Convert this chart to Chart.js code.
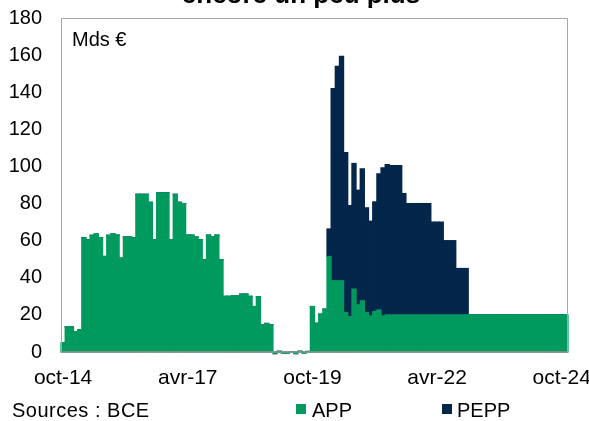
<!DOCTYPE html>
<html>
<head>
<meta charset="utf-8">
<script src="https://cdn.jsdelivr.net/npm/chart.js@4.4.1/dist/chart.umd.min.js"></script>
<style>
    body { margin: 0; background: #fff; }
    #wrap { position: relative; width: 589px; height: 421px; overflow: hidden; font-family: "Liberation Sans", Arial, sans-serif; color: #000; }
    #chart { position: absolute; left: 0; top: 0; }
    .title { position: absolute; left: 0; width: 602px; top: -19px; text-align: center; font-weight: bold; font-size: 26px; line-height: 26px; }
    .unit { position: absolute; left: 72px; top: 29px; font-size: 20px; line-height: 20px; }
    .foot { position: absolute; top: 400px; font-size: 20px; line-height: 20px; white-space: nowrap; }
    .sq { position: absolute; top: 404px; width: 10px; height: 10px; }
</style>
</head>
<body>
<div id="wrap">
    <canvas id="chart" width="589" height="421"></canvas>
    <div class="title">encore un peu plus</div>
    <div class="unit">Mds €</div>
    <div class="foot" style="left:12px;letter-spacing:0.5px">Sources : BCE</div>
    <div class="sq" style="left:296px;background:#009a5e"></div>
    <div class="foot" style="left:312px">APP</div>
    <div class="sq" style="left:442px;background:#03264a"></div>
    <div class="foot" style="left:457px">PEPP</div>
</div>
<script>
// achats nets mensuels, oct-14 -> nov-24
const monthNames = ['janv', 'févr', 'mars', 'avr', 'mai', 'juin', 'juil', 'août', 'sept', 'oct', 'nov', 'déc'];
const tickLabels = ['oct-14', 'avr-17', 'oct-19', 'avr-22', 'oct-24'];
const yTicks = [0, 20, 40, 60, 80, 100, 120, 140, 160, 180];

const appValues = [
    5, 13.5, 13.5, 11, 12, 61.6, 60.5, 62.9, 63.6, 61.6,
    51.5, 62.9, 63.6, 63, 50.6, 62, 62, 61.6, 85, 85,
    85, 80.7, 60.5, 85.8, 85.8, 85.8, 60.5, 85, 80.7, 80,
    63, 63, 62, 60.5, 49.7, 63, 62, 63, 49.7, 30,
    30, 30.2, 30.2, 31.2, 31.2, 30, 24.5, 29.8, 14.6, 15.4,
    14.6, -1, 0.4, -0.7, -0.7, 0, -1, 0.4, -0.7, 0.3,
    24.5, 15.5, 20.4, 23.1, 51.5, 38.4, 38.4, 38.4, 21.3, 19.1,
    33.9, 25.4, 27.6, 21.3, 19.5, 21.8, 22.7, 19.5, 20, 20,
    20, 20, 20, 20, 20, 20, 20, 20, 20, 20,
    20, 20, 20, 20, 20, 20, 20, 20, 20, 20,
    20, 20, 20, 20, 20, 20, 20, 20, 20, 20,
    20, 20, 20, 20, 20, 20, 20, 20, 20, 20,
    20, 20
];

const peppValues = [
    0, 0, 0, 0, 0, 0, 0, 0, 0, 0,
    0, 0, 0, 0, 0, 0, 0, 0, 0, 0,
    0, 0, 0, 0, 0, 0, 0, 0, 0, 0,
    0, 0, 0, 0, 0, 0, 0, 0, 0, 0,
    0, 0, 0, 0, 0, 0, 0, 0, 0, 0,
    0, 0, 0, 0, 0, 0, 0, 0, 0, 0,
    0, 0, 0, 0, 14.8, 103.5, 115.6, 120.9, 86.1, 59.8,
    67.7, 61.8, 71.1, 56.4, 51, 59.1, 73.3, 79.8, 81, 80.5,
    80.5, 80.5, 65.4, 60, 60, 60, 60, 60, 60, 50,
    50, 50, 40, 40, 40, 25, 25, 25, 0, 0,
    0, 0, 0, 0, 0, 0, 0, 0, 0, 0,
    0, 0, 0, 0, 0, 0, 0, 0, 0, 0,
    0, 0
];

const labels = [];
for (let i = 0; i < appValues.length; i++) {
    const m = (9 + i) % 12;
    const y = 14 + Math.floor((9 + i) / 12);
    labels.push(monthNames[m] + '-' + y);
}

const frame = {
    id: 'frame',
    afterDatasetsDraw(chart) {
        const {ctx, chartArea: a} = chart;
        ctx.save();
        ctx.strokeStyle = '#a6a6a6';
        ctx.lineWidth = 1;
        ctx.beginPath();
        ctx.moveTo(a.left + 0.5, a.bottom);
        ctx.lineTo(a.left + 0.5, a.top + 0.5);
        ctx.lineTo(a.right - 0.5, a.top + 0.5);
        ctx.lineTo(a.right - 0.5, a.bottom);
        ctx.stroke();
        ctx.strokeStyle = '#909090';
        ctx.lineWidth = 1.5;
        ctx.beginPath();
        ctx.moveTo(a.left, a.bottom);
        ctx.lineTo(a.right, a.bottom);
        ctx.stroke();
        ctx.restore();
    }
};

const ctx = document.getElementById('chart').getContext('2d');
new Chart(ctx, {
    type: 'bar',
    data: {
        labels: labels,
        datasets: [{
            label: 'APP',
            data: appValues,
            backgroundColor: '#009a5e',
            borderWidth: 0,
            inflateAmount: 0.6,
            clip: false
        }, {
            label: 'PEPP',
            data: peppValues,
            backgroundColor: '#03264a',
            borderWidth: 0,
            inflateAmount: 0.6
        }]
    },
    options: {
        responsive: false,
        animation: false,
        layout: {
            padding: {top: 18, right: 21, left: 0, bottom: 0}
        },
        datasets: {
            bar: {categoryPercentage: 1, barPercentage: 1}
        },
        plugins: {
            legend: {display: false},
            tooltip: {enabled: false}
        },
        scales: {
            x: {
                stacked: true,
                grid: {display: false, drawTicks: false},
                border: {display: false},
                ticks: {
                    autoSkip: false,
                    maxRotation: 0,
                    padding: 14,
                    color: '#000',
                    font: {family: 'Liberation Sans', size: 21},
                    callback: function (value) {
                        const l = this.getLabelForValue(value);
                        return tickLabels.includes(l) ? l : '';
                    }
                },
                afterFit: function (scale) {
                    scale.height = 69;
                    scale.paddingLeft = 0;
                    scale.paddingRight = 0;
                }
            },
            y: {
                stacked: true,
                min: yTicks[0],
                max: yTicks[yTicks.length - 1],
                grid: {display: false, drawTicks: false},
                border: {display: false},
                ticks: {
                    stepSize: 20,
                    padding: 19,
                    color: '#000',
                    font: {family: 'Liberation Sans', size: 20}
                },
                afterFit: function (scale) {
                    scale.width = 61;
                    scale.paddingTop = 0;
                    scale.paddingBottom = 0;
                }
            }
        }
    },
    plugins: [frame]
});
</script>
</body>
</html>
